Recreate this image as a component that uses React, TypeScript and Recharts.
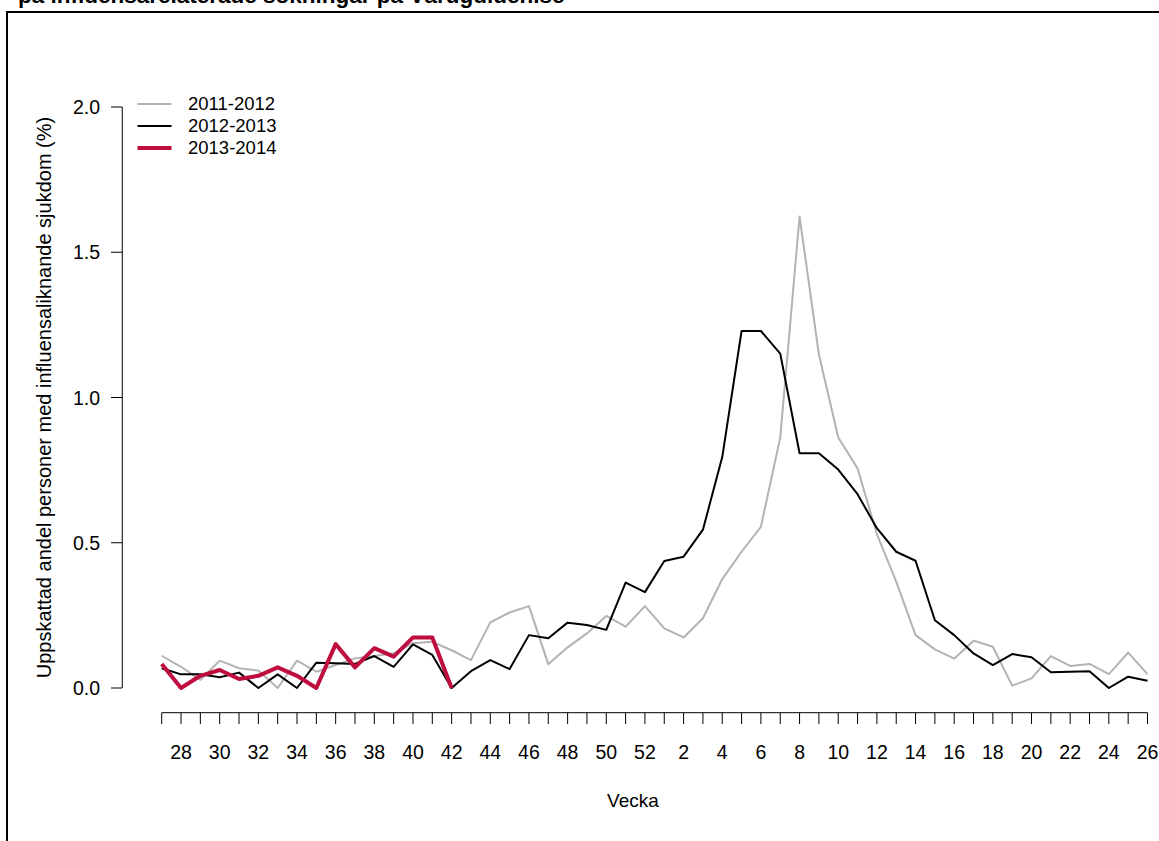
import React from "react";
import { LineChart, Line, XAxis, YAxis, ReferenceLine } from "recharts";

// week numbers, season runs from week 27 to week 26 of the next year
const WEEKS = [
  27, 28, 29, 30, 31, 32, 33, 34, 35, 36, 37, 38, 39, 40, 41, 42, 43, 44, 45,
  46, 47, 48, 49, 50, 51, 52, 1, 2, 3, 4, 5, 6, 7, 8, 9, 10, 11, 12, 13, 14,
  15, 16, 17, 18, 19, 20, 21, 22, 23, 24, 25, 26,
];

const SEASON_2011_12 = [
  0.111, 0.073, 0.028, 0.094, 0.068, 0.06, 0.0, 0.094, 0.056, 0.079,
  0.102, 0.11, 0.12, 0.154, 0.159, 0.13, 0.096, 0.226, 0.26, 0.282,
  0.082, 0.14, 0.188, 0.248, 0.211, 0.282, 0.205, 0.174, 0.24, 0.375,
  0.469, 0.555, 0.862, 1.623, 1.148, 0.862, 0.756, 0.53, 0.366, 0.182,
  0.133, 0.101, 0.163, 0.142, 0.008, 0.033, 0.11, 0.076, 0.083, 0.048,
  0.122, 0.048,
];

const SEASON_2012_13 = [
  0.068, 0.047, 0.047, 0.037, 0.053, 0.0, 0.047, 0.0, 0.087, 0.085,
  0.083, 0.11, 0.073, 0.15, 0.114, 0.0, 0.058, 0.096, 0.065, 0.182,
  0.171, 0.225, 0.217, 0.2, 0.363, 0.33, 0.437, 0.452, 0.545, 0.795,
  1.229, 1.229, 1.151, 0.808, 0.808, 0.752, 0.667, 0.55, 0.469, 0.438,
  0.233, 0.182, 0.119, 0.079, 0.117, 0.106, 0.054, 0.056, 0.058, 0.0,
  0.039, 0.025,
];

// current season, only up to week 42 so far
const SEASON_2013_14 = [
  0.083, 0.0, 0.042, 0.062, 0.031, 0.042, 0.071, 0.042, 0.0, 0.151,
  0.071, 0.137, 0.108, 0.174, 0.174, 0.0,
];

const Y_TICKS = [0, 0.5, 1, 1.5, 2];

const SERIES = [
  { key: "s1", name: "2011-2012", color: "#b3b3b3", width: 2 },
  { key: "s2", name: "2012-2013", color: "#000000", width: 2 },
  { key: "s3", name: "2013-2014", color: "#bf0d3e", width: 4 },
];

const FONT = "'Liberation Sans', Arial, Helvetica, sans-serif";

// R puts the y axis 4% of the x range left of the first week
const Y_AXIS_AT = -0.04 * (WEEKS.length - 1);
const Y_AXIS_PX = 122;

const rows = WEEKS.map((week, i) => ({
  i,
  week,
  s1: SEASON_2011_12[i],
  s2: SEASON_2012_13[i],
  s3: i < SEASON_2013_14.length ? SEASON_2013_14[i] : null,
}));

const YTick = (props: { y?: number; payload?: { value: number } }) => {
  const { y = 0, payload } = props;
  if (!payload) return null;
  return (
    <g>
      <line
        x1={Y_AXIS_PX - 11}
        x2={Y_AXIS_PX}
        y1={y}
        y2={y}
        stroke="#000"
        strokeWidth={1}
      />
      <text
        x={Y_AXIS_PX - 22}
        y={y}
        textAnchor="end"
        dominantBaseline="central"
        fontSize={19.5}
        fontFamily={FONT}
        fill="#000"
      >
        {payload.value.toFixed(1)}
      </text>
    </g>
  );
};

const LegendBox = () => (
  <div
    style={{
      position: "absolute",
      left: 137,
      top: 93,
      fontFamily: FONT,
      fontSize: 18.5,
      color: "#000",
    }}
  >
    {SERIES.map((s) => (
      <div
        key={s.key}
        style={{ display: "flex", alignItems: "center", height: 22 }}
      >
        <svg width={35} height={22}>
          <line
            x1={0.5}
            x2={34.5}
            y1={11}
            y2={11}
            stroke={s.color}
            strokeWidth={s.width}
          />
        </svg>
        <span style={{ marginLeft: 16, lineHeight: "22px" }}>{s.name}</span>
      </div>
    ))}
  </div>
);

export default function App() {
  return (
    <div
      style={{
        position: "absolute",
        left: 0,
        top: 0,
        width: 1159,
        height: 841,
        background: "#fff",
        overflow: "hidden",
      }}
    >
      <LineChart
        width={1159}
        height={841}
        data={rows}
        margin={{ top: 107, right: 11.5, bottom: 18.3, left: 0 }}
      >
        <XAxis
          dataKey="i"
          type="number"
          domain={[0, WEEKS.length - 1]}
          ticks={rows.map((r) => r.i)}
          interval={0}
          height={110}
          tickSize={11.3}
          tickMargin={21}
          stroke="#000"
          tick={{ fontSize: 19.5, fill: "#000", fontFamily: FONT }}
          tickFormatter={(v: number) => (v % 2 === 1 ? String(WEEKS[v]) : "")}
        />
        <YAxis
          type="number"
          domain={[0, 2]}
          ticks={Y_TICKS}
          width={161.7}
          padding={{ top: 0, bottom: 24.7 }}
          axisLine={false}
          tickLine={false}
          tick={(p: any) => <YTick {...p} />}
        />
        <ReferenceLine
          segment={[
            { x: Y_AXIS_AT, y: 0 },
            { x: Y_AXIS_AT, y: 2 },
          ]}
          ifOverflow="visible"
          stroke="#000"
          strokeWidth={1}
        />
        {SERIES.map((s) => (
          <Line
            key={s.key}
            type="linear"
            dataKey={s.key}
            name={s.name}
            stroke={s.color}
            strokeWidth={s.width}
            strokeLinejoin="round"
            dot={false}
            activeDot={false}
            connectNulls={false}
            isAnimationActive={false}
          />
        ))}
      </LineChart>

      <LegendBox />

      <svg
        width={1159}
        height={841}
        style={{ position: "absolute", left: 0, top: 0, pointerEvents: "none" }}
      >
        <rect
          x={7}
          y={12}
          width={1180}
          height={860}
          fill="none"
          stroke="#000"
          strokeWidth={2}
        />
        {/* second title line; the first line sits above the picture's top edge */}
        <text
          x={18}
          y={3}
          fontSize={22.5}
          fontWeight="bold"
          fontFamily={FONT}
          fill="#000"
        >
          på influensarelaterade sökningar på Vårdguiden.se
        </text>
        <text
          transform="translate(44, 397.5) rotate(-90)"
          textAnchor="middle"
          dominantBaseline="central"
          fontSize={20}
          fontFamily={FONT}
          fill="#000"
        >
          Uppskattad andel personer med influensaliknande sjukdom (%)
        </text>
        <text
          x={633}
          y={807}
          textAnchor="middle"
          fontSize={19}
          fontFamily={FONT}
          fill="#000"
        >
          Vecka
        </text>
      </svg>
    </div>
  );
}
